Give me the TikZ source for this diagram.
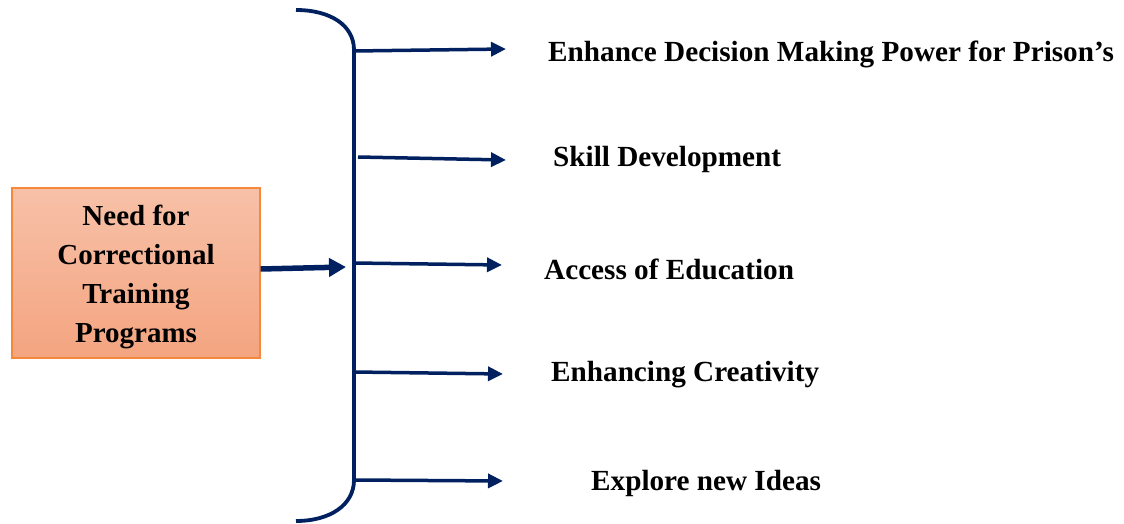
\documentclass[tikz,border=0pt]{standalone}
\usepackage{fontspec}
\setmainfont{Liberation Serif}
\usetikzlibrary{arrows.meta}
\definecolor{navy}{RGB}{0,32,96}
\definecolor{boxtop}{RGB}{247,193,168}
\definecolor{boxbot}{RGB}{244,164,128}
\definecolor{boxline}{RGB}{244,137,60}
\tikzset{
  x=1pt,y=-1pt,
  label/.style={anchor=west,inner sep=0pt,font=\fontsize{29.2}{34}\selectfont\bfseries},
  outarrow/.style={draw=navy,line width=3.5pt,-{Triangle[length=15pt,width=14pt]}},
  inarrow/.style={draw=navy,line width=5.5pt,-{Triangle[length=17pt,width=18pt]}},
  brace/.style={draw=navy,line width=3.8pt},
  srcbox/.style={draw=boxline,line width=1.2pt,top color=boxtop,bottom color=boxbot,
    minimum width=248pt,minimum height=170pt,inner sep=0pt},
  srctext/.style={align=center,inner sep=0pt,font=\fontsize{29}{39}\selectfont\bfseries}
}
\begin{document}
\begin{tikzpicture}
\useasboundingbox (0,0) rectangle (1124,524);
\node[srcbox] (src) at (136,273) {};
\node[srctext] (srct) at (136,277) {Need for\\Correctional\\Training\\Programs};
% brace
\coordinate (btop) at (296,10);
\coordinate (bbot) at (296,521);
\coordinate (b1) at (354,51);
\coordinate (b2) at (358,157);
\coordinate (b3) at (354,263);
\coordinate (b4) at (354,372);
\coordinate (b5) at (354,480);
\coordinate (bin) at (346,267);
\draw[brace] (btop) .. controls (330,10) and (354,25) .. (354,50) -- (354,480) .. controls (354,505) and (330,521) .. (bbot);
% targets
\coordinate (t1) at (506,49);
\coordinate (t2) at (506,160);
\coordinate (t3) at (502,265);
\coordinate (t4) at (503,374);
\coordinate (t5) at (503,481);
\draw[outarrow] (b1) -- (t1);
\draw[outarrow] (b2) -- (t2);
\draw[outarrow] (b3) -- (t3);
\draw[outarrow] (b4) -- (t4);
\draw[outarrow] (b5) -- (t5);
\draw[inarrow] (src.east |- 0,269) -- (bin);
% labels
\node[label] (l1) at (548,54) {Enhance Decision Making Power for Prison’s};
\node[label] (l2) at (553,159) {Skill Development};
\node[label] (l3) at (544,269) {Access of Education};
\node[label] (l4) at (551,375) {Enhancing Creativity};
\node[label] (l5) at (591,483) {Explore new Ideas};
\end{tikzpicture}
\end{document}
